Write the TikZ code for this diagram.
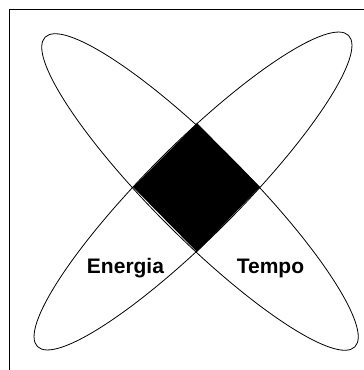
\documentclass[tikz,border=0pt]{standalone}
\usepackage{fontspec}
\setmainfont{Liberation Sans}
\usetikzlibrary{positioning}

\begin{document}
\begin{tikzpicture}[
    x=1pt, y=-1pt,
    petal/.style={draw=black, line width=0.8pt},
    frameline/.style={draw=black, line width=1.3pt},
    lbl/.style={font=\fontsize{21}{25}\selectfont\bfseries, anchor=base, inner sep=0pt}
]
\useasboundingbox (0,0) rectangle (364,370);
% frame
\draw[frameline] (9.5,370) -- (9.5,9.5) -- (364,9.5);
% centres of the two petals
\coordinate (c1) at (200,192);
\coordinate (c2) at (193,191);
% black core
\coordinate (ctop) at (197,123);
\coordinate (cright) at (260,187);
\coordinate (cbot) at (197,252);
\coordinate (cleft) at (133,187);
\fill (ctop) -- (cright) -- (cbot) -- (cleft) -- cycle;
% petals
\draw[petal, rotate around={-45:(c1)}] (c1) ellipse [x radius=219pt, y radius=46pt];
\draw[petal, rotate around={45:(c2)}] (c2) ellipse [x radius=220pt, y radius=46pt];
% labels
\node[lbl] (energia) at (125.5,273) {Energia};
\node[lbl] (tempo) at (270.5,273) {Tempo};
\end{tikzpicture}
\end{document}
